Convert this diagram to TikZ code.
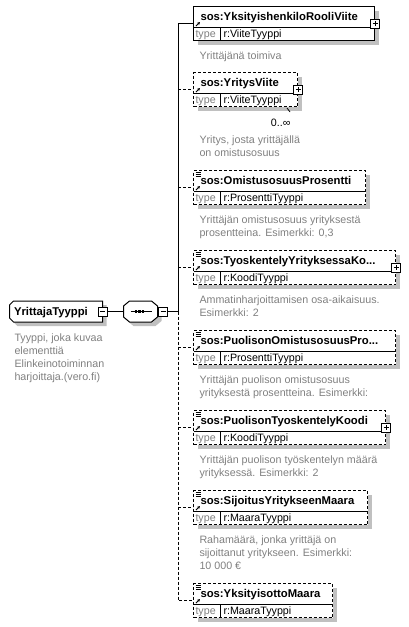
\documentclass[tikz,border=0pt]{standalone}
\usepackage{fontspec}
\setmainfont{Liberation Sans}
\usetikzlibrary{positioning}
\usetikzlibrary{calc}
\usetikzlibrary{shadows}
\usetikzlibrary{arrows.meta}

\definecolor{docgray}{RGB}{128,128,128}
\definecolor{shadegray}{RGB}{192,192,192}

\newcommand{\boxlines}{%
  \draw[solid] ([yshift=-21pt]path picture bounding box.north west) -- ([yshift=-21pt]path picture bounding box.north east);
  \draw[solid] ([xshift=27pt,yshift=-21pt]path picture bounding box.north west) -- ([xshift=27pt]path picture bounding box.south west);
  \draw[solid, -{Stealth[length=3pt,width=3pt]}] ([xshift=2.5pt,yshift=-19.5pt]path picture bounding box.north west) -- ++(4pt,4pt);}
\newcommand{\docicon}{%
  \draw[solid, line width=0.8pt] ([xshift=2pt,yshift=-1.5pt]path picture bounding box.north west) -- ++(5pt,0pt)
               ([xshift=2pt,yshift=-3.5pt]path picture bounding box.north west) -- ++(5pt,0pt)
               ([xshift=2pt,yshift=-5.5pt]path picture bounding box.north west) -- ++(5pt,0pt);}

\begin{document}
\begin{tikzpicture}[x=1pt, y=-1pt, line width=1pt,
    boxshadow/.style={drop shadow={shadow xshift=4pt, shadow yshift=-4pt, fill=shadegray, opacity=1}},
    outline/.style={draw, fill=white, boxshadow},
    typebox/.style={rectangle, minimum width=92pt, minimum height=20pt, inner sep=0pt},
    seqbox/.style={rectangle, minimum width=33pt, minimum height=20pt, inner sep=0pt},
    elembox/.style={rectangle, draw, fill=white, anchor=north west, inner sep=0pt,
                    minimum height=34pt, boxshadow, path picture={\boxlines}},
    optbox/.style={elembox, dash pattern=on 3pt off 2pt},
    optdocbox/.style={optbox, path picture={\boxlines\docicon}},
    expander/.style={rectangle, draw, solid, fill=white, minimum size=9pt, inner sep=0pt},
    plusbox/.style={expander, path picture={
        \draw ([xshift=2pt]path picture bounding box.west) -- ([xshift=-2pt]path picture bounding box.east)
              ([yshift=2pt]path picture bounding box.south) -- ([yshift=-2pt]path picture bounding box.north);}},
    minusbox/.style={expander, path picture={
        \draw ([xshift=2pt]path picture bounding box.west) -- ([xshift=-2pt]path picture bounding box.east);}},
    elemname/.style={anchor=base west, inner sep=0pt, font=\bfseries\fontsize{11.3}{13}\selectfont},
    typelabel/.style={anchor=base west, inner sep=0pt, text=docgray, font=\fontsize{10.7}{13}\selectfont},
    typename/.style={anchor=base west, inner sep=0pt, font=\fontsize{10.7}{13}\selectfont},
    doctext/.style={anchor=north west, inner sep=0pt, align=left, text=docgray, font=\fontsize{10.7}{13}\selectfont},
    optline/.style={dash pattern=on 3pt off 2pt},
  ]
  \useasboundingbox (0,0) rectangle (409,627);

  % Nodes
  \node[typebox]   (yrittaja)      at (56,311.5)   {};
  \draw[outline] ($(yrittaja.north west)+(4,0)$) -- (yrittaja.north east) -- (yrittaja.south east)
                 -- ($(yrittaja.south west)+(4,0)$) -- ($(yrittaja.south west)+(0,-4)$)
                 -- ($(yrittaja.north west)+(0,4)$) -- cycle;
  \node[elemname]  (yrittaja_name) at (13.5,315.5) {YrittajaTyyppi};
  \node[minusbox]  (yrittaja_m)    at (yrittaja.east) {};
  \node[doctext]   (yrittaja_doc)  at (14,333) {Tyyppi, joka kuvaa\\elementtiä\\Elinkeinotoiminnan\\harjoittaja.(vero.fi)};

  \node[seqbox]    (seq)           at (140.5,311.5) {};
  \draw[outline] ($(seq.north west)+(6,0)$) -- ($(seq.north east)+(-6,0)$) -- ($(seq.north east)+(0,5)$)
                 -- ($(seq.south east)+(0,-5)$) -- ($(seq.south east)+(-6,0)$) -- ($(seq.south west)+(6,0)$)
                 -- ($(seq.south west)+(0,-5)$) -- ($(seq.north west)+(0,5)$) -- cycle;
  \node[minusbox]  (seq_m)         at (163,311.5)   {};
  \coordinate      (jn)            at (178,311.5);

  \node[elembox, minimum width=181pt] (rooli) at (193,6) {};
  \node[elemname]  (rooli_name) at ($(rooli.north west)+(7,14)$)   {sos:YksityishenkiloRooliViite};
  \node[typelabel] (rooli_type) at ($(rooli.north west)+(2,31.5)$)  {type};
  \node[typename]  (rooli_ref)  at ($(rooli.north west)+(30,31.5)$) {r:ViiteTyyppi};
  \node[plusbox]   (rooli_plus) at (rooli.east) {};
  \node[doctext]   (rooli_doc)  at ($(rooli.south west)+(6,10)$) {Yrittäjänä toimiva};

  \node[optbox, minimum width=104pt] (yritys) at (193,72) {};
  \node[elemname]  (yritys_name) at ($(yritys.north west)+(7,14)$)   {sos:YritysViite};
  \node[typelabel] (yritys_type) at ($(yritys.north west)+(2,31.5)$)  {type};
  \node[typename]  (yritys_ref)  at ($(yritys.north west)+(30,31.5)$) {r:ViiteTyyppi};
  \node[plusbox]   (yritys_plus) at (yritys.east) {};
  \node[anchor=east, inner sep=0pt, font=\fontsize{10.7}{13}\selectfont] (yritys_occ) at ($(yritys.south east)+(-7,16)$) {0..∞};
  \node[doctext]   (yritys_doc)  at ($(yritys.south west)+(6,28)$) {Yritys, josta yrittäjällä\\on omistusosuus};

  \node[optdocbox, minimum width=172pt] (omistus) at (193,170) {};
  \node[elemname]  (omistus_name) at ($(omistus.north west)+(7,14)$)   {sos:OmistusosuusProsentti};
  \node[typelabel] (omistus_type) at ($(omistus.north west)+(2,31.5)$)  {type};
  \node[typename]  (omistus_ref)  at ($(omistus.north west)+(30,31.5)$) {r:ProsenttiTyyppi};
  \node[doctext]   (omistus_doc)  at ($(omistus.south west)+(6,10)$) {Yrittäjän omistusosuus yrityksestä\\prosentteina. Esimerkki: 0,3};

  \node[optdocbox, minimum width=202pt] (tyoskentely) at (193,250) {};
  \node[elemname]  (tyoskentely_name) at ($(tyoskentely.north west)+(7,14)$)   {sos:TyoskentelyYrityksessaKo...};
  \node[typelabel] (tyoskentely_type) at ($(tyoskentely.north west)+(2,31.5)$)  {type};
  \node[typename]  (tyoskentely_ref)  at ($(tyoskentely.north west)+(30,31.5)$) {r:KoodiTyyppi};
  \node[plusbox]   (tyoskentely_plus) at (tyoskentely.east) {};
  \node[doctext]   (tyoskentely_doc)  at ($(tyoskentely.south west)+(6,10)$) {Ammatinharjoittamisen osa-aikaisuus.\\Esimerkki: 2};

  \node[optdocbox, minimum width=202pt] (puolisoomistus) at (193,330) {};
  \node[elemname]  (puolisoomistus_name) at ($(puolisoomistus.north west)+(7,14)$)   {sos:PuolisonOmistusosuusPro...};
  \node[typelabel] (puolisoomistus_type) at ($(puolisoomistus.north west)+(2,31.5)$)  {type};
  \node[typename]  (puolisoomistus_ref)  at ($(puolisoomistus.north west)+(30,31.5)$) {r:ProsenttiTyyppi};
  \node[doctext]   (puolisoomistus_doc)  at ($(puolisoomistus.south west)+(6,10)$) {Yrittäjän puolison omistusosuus\\yrityksestä prosentteina. Esimerkki:};

  \node[optdocbox, minimum width=192pt] (puolisotyo) at (193,410) {};
  \node[elemname]  (puolisotyo_name) at ($(puolisotyo.north west)+(7,14)$)   {sos:PuolisonTyoskentelyKoodi};
  \node[typelabel] (puolisotyo_type) at ($(puolisotyo.north west)+(2,31.5)$)  {type};
  \node[typename]  (puolisotyo_ref)  at ($(puolisotyo.north west)+(30,31.5)$) {r:KoodiTyyppi};
  \node[plusbox]   (puolisotyo_plus) at (puolisotyo.east) {};
  \node[doctext]   (puolisotyo_doc)  at ($(puolisotyo.south west)+(6,10)$) {Yrittäjän puolison työskentelyn määrä\\yrityksessä. Esimerkki: 2};

  \node[optdocbox, minimum width=174pt] (sijoitus) at (193,490) {};
  \node[elemname]  (sijoitus_name) at ($(sijoitus.north west)+(7,14)$)   {sos:SijoitusYritykseenMaara};
  \node[typelabel] (sijoitus_type) at ($(sijoitus.north west)+(2,31.5)$)  {type};
  \node[typename]  (sijoitus_ref)  at ($(sijoitus.north west)+(30,31.5)$) {r:MaaraTyyppi};
  \node[doctext]   (sijoitus_doc)  at ($(sijoitus.south west)+(6,10)$) {Rahamäärä, jonka yrittäjä on\\sijoittanut yritykseen. Esimerkki:\\10 000 €};

  \node[optdocbox, minimum width=139pt] (yksityisotto) at (193,583) {};
  \node[elemname]  (yksityisotto_name) at ($(yksityisotto.north west)+(7,14)$)   {sos:YksityisottoMaara};
  \node[typelabel] (yksityisotto_type) at ($(yksityisotto.north west)+(2,31.5)$)  {type};
  \node[typename]  (yksityisotto_ref)  at ($(yksityisotto.north west)+(30,31.5)$) {r:MaaraTyyppi};

  % Sequence symbol
  \draw ([xshift=-10pt]seq.center) -- ([xshift=11pt]seq.center);
  \fill ([xshift=-4.5pt]seq.center) +(-1.2,-1.5) rectangle +(1.2,1.5);
  \fill ([xshift=-1pt]seq.center)   +(-1.2,-1.5) rectangle +(1.2,1.5);
  \fill ([xshift=2.5pt]seq.center)  +(-1.2,-1.5) rectangle +(1.2,1.5);

  % Occurrence mark
  \draw[line width=0.8pt] ($(yritys.south east)+(-11,1)$) -- ++(3,4);

  %Lines
  \draw (yrittaja_m) -- (seq);
  \draw (seq) -- (seq_m);
  \draw (seq_m) -- (jn);
  \draw (jn) |- (rooli);
  \draw[optline] (jn |- yritys) -- (yritys);
  \draw[optline] (jn |- omistus) -- (omistus);
  \draw[optline] (jn |- tyoskentely) -- (tyoskentely);
  \draw[optline] (jn) |- (yksityisotto);
  \draw[optline] (jn |- puolisoomistus) -- (puolisoomistus);
  \draw[optline] (jn |- puolisotyo) -- (puolisotyo);
  \draw[optline] (jn |- sijoitus) -- (sijoitus);
\end{tikzpicture}
\end{document}
